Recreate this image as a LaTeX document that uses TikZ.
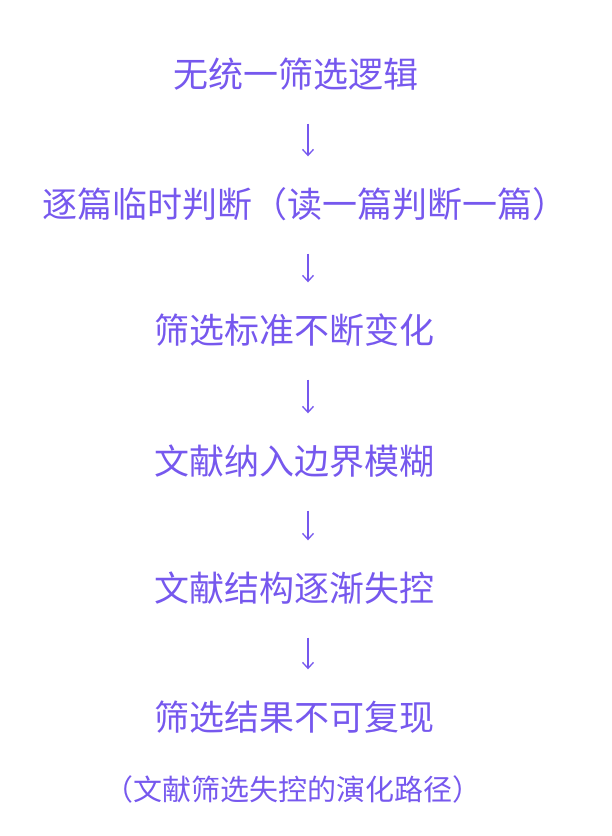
\documentclass[tikz,border=0pt]{standalone}
\usepackage{fontspec}
\usetikzlibrary{arrows.meta}
\newfontfamily\cjk{Noto Sans CJK SC}
\definecolor{pur}{RGB}{118,88,238}
\begin{document}
\begin{tikzpicture}[x=1pt,y=-1pt,
  t/.style={font=\cjk\fontsize{35}{38}\selectfont, text=pur, inner sep=0pt, text height=30pt, text depth=5pt},
  captext/.style={font=\cjk\fontsize{29}{31}\selectfont, text=pur, inner sep=0pt},
  ar/.style={draw=pur, line width=1.3pt, -{Straight Barb[length=6pt,width=11pt]}, shorten <=31pt, shorten >=31pt}]
\useasboundingbox (0,0) rectangle (611,836);
\node[t] (a) at (296,75) {无统一筛选逻辑};
\node[t] (b) at (305,205) {逐篇临时判断（读一篇判断一篇）};
\node[t] (c) at (294,331) {筛选标准不断变化};
\node[t] (d) at (294,462) {文献纳入边界模糊};
\node[t] (e) at (294,589) {文献结构逐渐失控};
\node[t] (f) at (294,718) {筛选结果不可复现};
\node[captext] (g) at (293,789) {（文献筛选失控的演化路径）};
\foreach \u/\v in {a/b,b/c,c/d,d/e,e/f}
  \draw[ar] (308,0 |- \u.south) -- (308,0 |- \v.north);
\end{tikzpicture}
\end{document}
